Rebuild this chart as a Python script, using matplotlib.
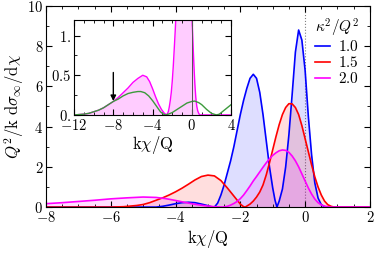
import matplotlib
matplotlib.use("Agg")
import matplotlib.pyplot as plt
from matplotlib.ticker import MultipleLocator, FuncFormatter, FixedLocator, FixedFormatter

plt.rcParams['mathtext.fontset'] = 'cm'
plt.rcParams['font.family'] = 'serif'
plt.rcParams['font.serif'] = ['DejaVu Serif']

# kappa^2/Q^2 = 1.0
x_blue = [-8, -5, -4.6, -4.4, -4.2, -4.0, -3.8, -3.6, -3.4, -3.2, -3.0, -2.9, -2.8,
          -2.7, -2.6, -2.5, -2.4, -2.3, -2.2, -2.1, -2.0, -1.9, -1.8, -1.7, -1.6,
          -1.5, -1.4, -1.3, -1.2, -1.1, -1.0, -0.93, -0.87, -0.8, -0.7, -0.6, -0.5,
          -0.4, -0.3, -0.2, -0.1, 0.0, 0.1, 0.2, 0.3, 0.4, 0.5, 0.6, 0.7, 2.0]
y_blue = [0, 0, 0.0, 0.04, 0.1, 0.17, 0.22, 0.24, 0.22, 0.15, 0.07, 0.02, 0.0,
          0.2, 0.6, 1.1, 1.7, 2.3, 3.0, 3.8, 4.6, 5.3, 5.9, 6.4, 6.6,
          6.4, 5.7, 4.6, 3.3, 2.0, 0.95, 0.35, 0.0, 0.3, 0.9, 2.0, 3.6,
          5.6, 7.7, 8.8, 8.3, 6.8, 4.5, 2.6, 1.2, 0.45, 0.12, 0.02, 0.0, 0.0]

# kappa^2/Q^2 = 1.5
x_red = [-8, -6, -5.6, -5.4, -5.2, -5.0, -4.8, -4.6, -4.4, -4.2, -4.0, -3.8, -3.6,
         -3.4, -3.2, -3.0, -2.8, -2.6, -2.4, -2.2, -2.1, -2.0, -1.9, -1.85,
         -1.8, -1.7, -1.6, -1.5, -1.4, -1.3, -1.2, -1.1, -1.0, -0.9, -0.8, -0.7,
         -0.6, -0.5, -0.4, -0.3, -0.2, -0.1, 0.0, 0.1, 0.2, 0.3, 0.4, 0.5, 0.6,
         0.7, 0.8, 0.9, 2.0]
y_red = [0, 0, 0.02, 0.05, 0.08, 0.13, 0.22, 0.34, 0.46, 0.6, 0.76, 0.94, 1.14,
         1.35, 1.52, 1.59, 1.55, 1.32, 0.95, 0.55, 0.35, 0.15, 0.02, 0.0,
         0.05, 0.15, 0.3, 0.5, 0.75, 1.1, 1.6, 2.2, 2.85, 3.5, 4.1, 4.6,
         4.95, 5.14, 5.13, 4.95, 4.6, 4.05, 3.4, 2.75, 2.1, 1.5, 1.0, 0.6, 0.3,
         0.12, 0.04, 0.0, 0.0]

# kappa^2/Q^2 = 2.0 (also shown in the inset)
x_mag = [-12, -11, -10.5, -10, -9.5, -9, -8.5, -8, -7.5, -7, -6.5, -6, -5.5, -5.0,
         -4.6, -4.3, -4.0, -3.7, -3.4, -3.1, -2.8, -2.55, -2.4, -2.3, -2.2, -2.1,
         -2.0, -1.9, -1.8, -1.7, -1.6, -1.5, -1.4, -1.3, -1.2, -1.1, -1.0, -0.9,
         -0.8, -0.7, -0.6, -0.5, -0.4, -0.3, -0.2, -0.1, 0.0, 0.1, 0.2, 0.3, 0.4,
         0.5, 0.6, 0.7, 0.8, 2.0, 4.0]
y_mag = [0.0, 0.01, 0.02, 0.04, 0.06, 0.09, 0.13, 0.17, 0.22, 0.28, 0.34, 0.41, 0.46, 0.5,
         0.48, 0.42, 0.33, 0.23, 0.14, 0.07, 0.02, 0.0, 0.04, 0.1, 0.18, 0.28,
         0.42, 0.6, 0.82, 1.05, 1.3, 1.52, 1.75, 1.98, 2.2, 2.4, 2.57, 2.7,
         2.8, 2.84, 2.82, 2.72, 2.54, 2.3, 2.0, 1.65, 1.3, 0.95, 0.65, 0.4, 0.22,
         0.11, 0.05, 0.02, 0.0, 0.0, 0.0]

# inset reference curve (green)
x_green = [-12, -11, -10.5, -10, -9.5, -9, -8.5, -8, -7.5, -7, -6.5, -6, -5.5, -5.2,
           -4.8, -4.4, -4.0, -3.6, -3.2, -2.9, -2.7, -2.4, -2.0, -1.5, -1.0, -0.5,
           0.0, 0.3, 0.7, 1.0, 1.5, 2.0, 2.5, 2.8, 3.2, 3.6, 4.0]
y_green = [0.0, 0.01, 0.02, 0.04, 0.06, 0.09, 0.13, 0.17, 0.2, 0.24, 0.27, 0.285, 0.295, 0.295,
           0.28, 0.24, 0.18, 0.11, 0.04, 0.01, 0.0, 0.01, 0.03, 0.07, 0.11, 0.15,
           0.17, 0.175, 0.155, 0.13, 0.07, 0.02, 0.0, 0.01, 0.05, 0.09, 0.13]

labels = ['1.0', '1.5', '2.0']
series = [(x_blue, y_blue, '#0000ff'), (x_red, y_red, '#ff0000'), (x_mag, y_mag, '#ff00ff')]

fig = plt.figure(figsize=(3.74, 2.56), dpi=100)
ax = fig.add_axes([0.123, 0.191, 0.866, 0.786])

for (xs, ys, c), lab in zip(series, labels):
    ax.fill_between(xs, 0, ys, color=c, alpha=0.13, lw=0)
    ax.plot(xs, ys, color=c, lw=1.2, label='$' + lab + '$')

ax.axvline(0, color='gray', lw=0.8, ls=':', zorder=0)
ax.set_xlim(-8, 2)
ax.set_ylim(0, 10)
ax.xaxis.set_major_locator(MultipleLocator(2))
ax.xaxis.set_minor_locator(MultipleLocator(0.5))
ax.yaxis.set_major_locator(MultipleLocator(2))
ax.yaxis.set_minor_locator(MultipleLocator(1))
fmt = FuncFormatter(lambda v, p: '$%g$' % v)
ax.xaxis.set_major_formatter(fmt)
ax.yaxis.set_major_formatter(fmt)
ax.tick_params(which='both', direction='in', top=True, right=True, labelsize=10.5, pad=2)
ax.tick_params(which='major', length=4)
ax.tick_params(which='minor', length=2)
ax.set_xlabel(r'$\mathrm{k}\chi/\mathrm{Q}$', fontsize=12, labelpad=2)
ax.set_ylabel(r'$Q^2/\mathrm{k}\ \mathrm{d}\sigma_\infty/\mathrm{d}\chi$', fontsize=12, labelpad=1)

leg = ax.legend(title=r'$\kappa^2/Q^2$', loc='upper right', frameon=False, fontsize=11,
                title_fontsize=11, handlelength=1.0, handletextpad=0.5, labelspacing=0.05,
                borderaxespad=0.3)

# inset
axi = fig.add_axes([0.198, 0.551, 0.42, 0.372])
axi.fill_between(x_mag, 0, y_mag, color='#ff00ff', alpha=0.2, lw=0)
axi.plot(x_mag, y_mag, color='#ff00ff', lw=1.0)
axi.plot(x_green, y_green, color='#3c9a3c', lw=1.0)
axi.axvline(0, color='#555555', lw=0.7)
axi.annotate('', xy=(-8, 0.14), xytext=(-8, 0.57),
             arrowprops=dict(arrowstyle='-|>', color='black', lw=1.0, mutation_scale=8))
axi.set_xlim(-12, 4)
axi.set_ylim(0, 1.2)
axi.xaxis.set_major_locator(MultipleLocator(4))
axi.xaxis.set_minor_locator(MultipleLocator(1))
axi.xaxis.set_major_formatter(fmt)
axi.yaxis.set_major_locator(FixedLocator([0, 0.5, 1.0]))
axi.yaxis.set_major_formatter(FixedFormatter(['$0.$', '$0.5$', '$1.$']))
axi.yaxis.set_minor_locator(MultipleLocator(0.25))
axi.tick_params(which='both', direction='in', top=True, right=True, labelsize=10.5, pad=2)
axi.tick_params(which='major', length=4)
axi.tick_params(which='minor', length=2.5)
axi.set_xlabel(r'$\mathrm{k}\chi/\mathrm{Q}$', fontsize=12, labelpad=1)

fig.savefig('out.png', dpi=100)
